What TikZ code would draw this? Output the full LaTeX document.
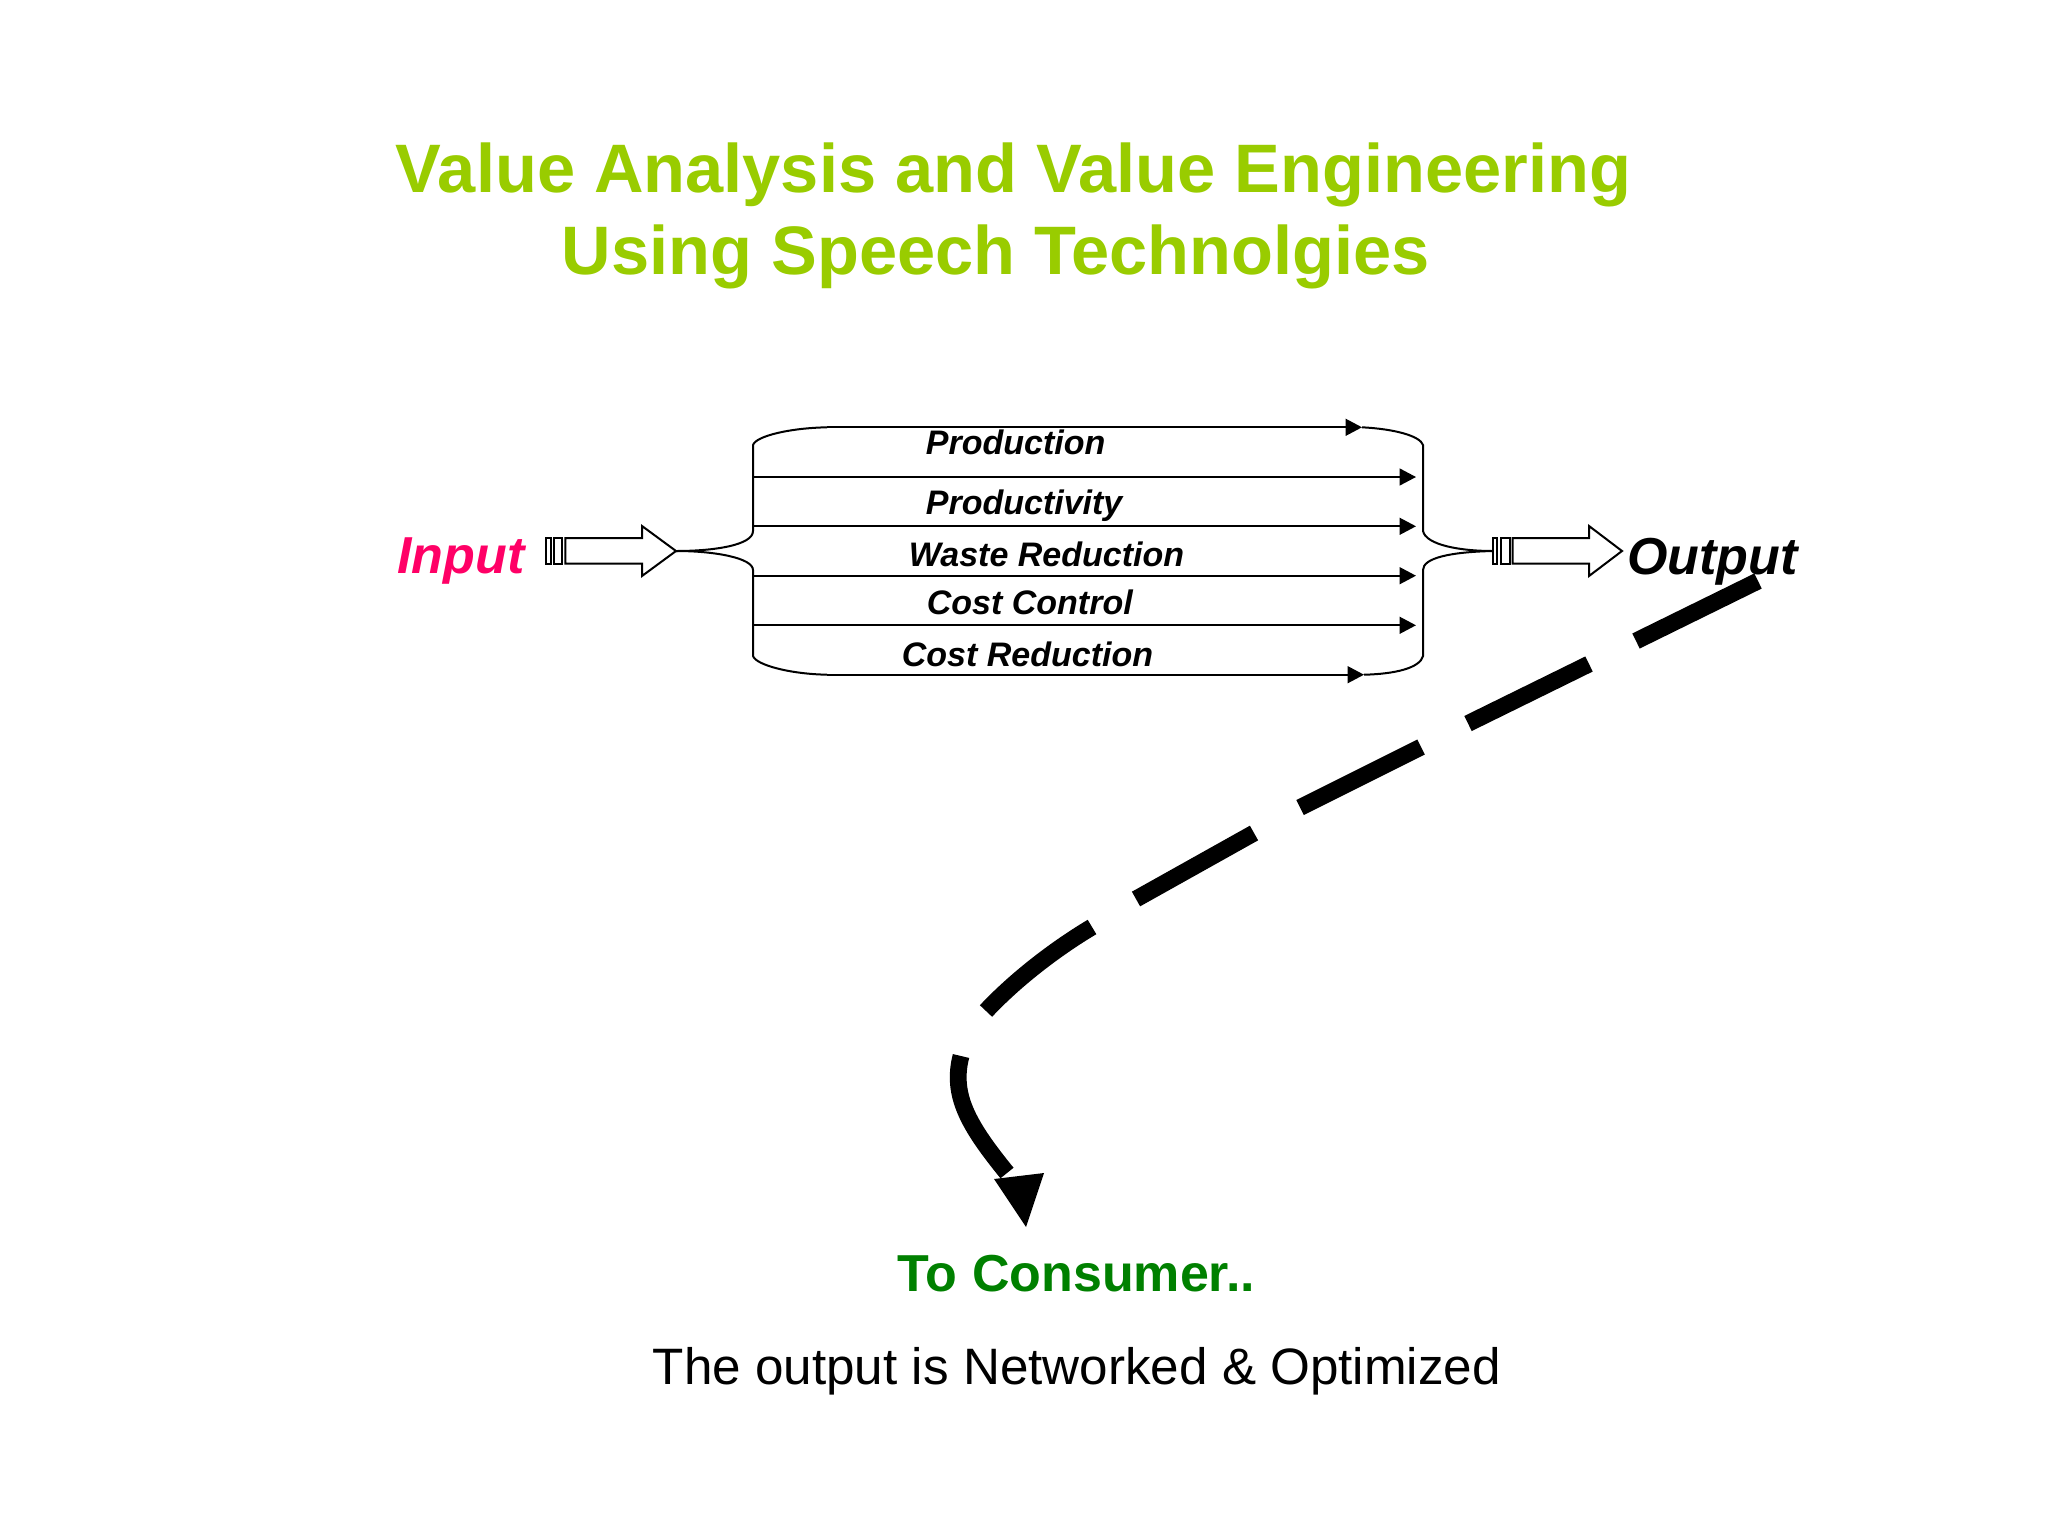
\documentclass[tikz,border=0pt]{standalone}
\usepackage{fontspec}
\setmainfont{Liberation Sans}
\usetikzlibrary{arrows.meta}
\definecolor{titlegreen}{HTML}{99CC00}
\definecolor{inputpink}{HTML}{FF0066}
\definecolor{consumergreen}{HTML}{008000}
\tikzset{
  txt/.style={inner sep=0pt,anchor=base west},
  flowlabel/.style={txt,font=\fontsize{17}{20}\selectfont\bfseries\itshape},
  endlabel/.style={txt,font=\fontsize{26}{30}\selectfont\bfseries\itshape},
  titletext/.style={txt,text=titlegreen,font=\fontsize{34.3}{41}\selectfont\bfseries},
  thinline/.style={line width=1pt,black},
  flow/.style={thinline,-{Triangle[length=8.2pt,width=8.4pt]}},
  bigdash/.style={line width=8.4pt,black},
}
\begin{document}
\begin{tikzpicture}[x=0.5pt,y=-0.5pt]
\useasboundingbox (0,0) rectangle (2048,1536);
% titles
\node[titletext] (t1) at (395.5,192) {Value Analysis and Value Engineering};
\node[titletext] (t2) at (561.5,274) {Using Speech Technolgies};
% side labels
\node[endlabel,text=inputpink] (input) at (397,573) {Input};
\node[endlabel] (output) at (1627,574) {Output};
% flow labels
\node[flowlabel] (l1) at (925.5,454.5) {Production};
\node[flowlabel] (l2) at (925.5,514.5) {Productivity};
\node[flowlabel] (l3) at (908.5,566.5) {Waste Reduction};
\node[flowlabel] (l4) at (926.5,614.5) {Cost Control};
\node[flowlabel] (l5) at (901.5,666.5) {Cost Reduction};
% bottom texts
\node[txt,text=consumergreen,font=\fontsize{26}{30}\selectfont\bfseries] (consumer) at (897.5,1291) {To Consumer..};
\node[txt,font=\fontsize{25.6}{30}\selectfont] (note) at (652.5,1384) {The output is Networked \& Optimized};
% junction coordinates
\coordinate (jl) at (676,551);
\coordinate (jr) at (1493,551);
\foreach \n/\yy in {a/477,b/526.3,c/575.7,d/625.3}{
  \coordinate (\n0) at (752,\yy);
  \coordinate (\n1) at (1416,\yy);
}
\coordinate (e0) at (827,427.3); \coordinate (e1) at (1362,427.3);
\coordinate (f0) at (827,674.7); \coordinate (f1) at (1364,674.7);
% input block arrow
\draw[thinline] (545.7,538) rectangle (550.7,563.7);
\draw[thinline] (553.7,538) rectangle (562.3,563.7);
\draw[thinline,fill=white] (565.3,538) -- (642,538) -- (642,526) -- (jl) -- (642,576) -- (642,563.7) -- (565.3,563.7) -- cycle;
% output block arrow
\draw[thinline] (1492.7,538) rectangle (1497.3,563.7);
\draw[thinline] (1501,538) rectangle (1509.7,563.7);
\draw[thinline,fill=white] (1512.7,538) -- (1589,538) -- (1589,526) -- (1622,551) -- (1589,576) -- (1589,563.7) -- (1512.7,563.7) -- cycle;
% left bracket
\draw[thinline] (jl) .. controls (715,551) and (753,545) .. (753,531) -- (753,445) .. controls (756,436) and (790,428) .. (e0);
\draw[thinline] (jl) .. controls (715,551) and (753,558) .. (753,570) -- (753,656) .. controls (756,665) and (790,674) .. (f0);
% right bracket
\draw[thinline] (e1) .. controls (1395,429) and (1420,436) .. (1423,445) -- (1423,531) .. controls (1426,545) and (1460,551) .. (jr);
\draw[thinline] (f1) .. controls (1395,674) and (1420,668) .. (1423,656) -- (1423,570) .. controls (1423,558) and (1450,552) .. (jr);
% flow lines
\draw[flow] (e0) -- (e1);
\draw[flow] (a0) -- (a1);
\draw[flow] (b0) -- (b1);
\draw[flow] (c0) -- (c1);
\draw[flow] (d0) -- (d1);
\draw[flow] (f0) -- (f1);
% heavy dashed connector
\coordinate (s1) at (1758,581); \coordinate (s2) at (1636,641);
\coordinate (s3) at (1589,664); \coordinate (s4) at (1468,723.5);
\coordinate (s5) at (1421,747); \coordinate (s6) at (1300,807.5);
\coordinate (s7) at (1254,833); \coordinate (s8) at (1136,899);
\coordinate (s9) at (1092,927); \coordinate (s10) at (986,1011);
\coordinate (s11) at (961,1056); \coordinate (s12) at (1007,1173);
\draw[bigdash] (s1) -- (s2) (s3) -- (s4) (s5) -- (s6) (s7) -- (s8)
  (s9) .. controls (1055,949) and (1015,980) .. (s10)
  (s11) .. controls (951,1095) and (968,1125) .. (s12);
\fill[black] (994,1179) -- (1044,1173) -- (1026,1227) -- cycle;
\end{tikzpicture}
\end{document}
